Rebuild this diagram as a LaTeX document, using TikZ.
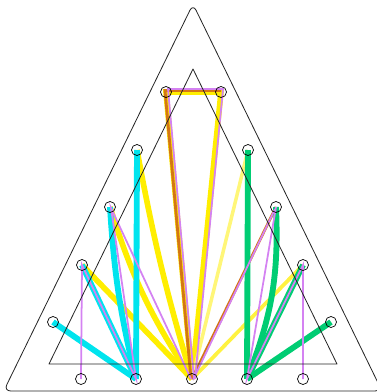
\documentclass[tikz,border=0pt]{standalone}
\usepackage{tikz}
\usetikzlibrary{calc,backgrounds}
\definecolor{mkyellow}{RGB}{255,238,0}
\definecolor{mkpale}{RGB}{255,246,120}
\definecolor{mkcyan}{RGB}{0,228,238}
\definecolor{mkgreen}{RGB}{0,205,115}
\definecolor{mkorange}{RGB}{212,118,20}
\definecolor{mkviolet}{RGB}{212,130,242}
\tikzset{
  peg/.style={draw, circle, minimum size=0.33cm, inner sep=0pt, line width=0.6pt},
  frame/.style={draw=black!85, line width=0.7pt},
  yel/.style={mkyellow, line width=4.8pt},
  cya/.style={mkcyan, line width=5pt},
  grn/.style={mkgreen, line width=5pt},
  ora/.style={mkorange, line width=2.4pt},
  vio/.style={mkviolet, line width=1.5pt}
}

\begin{document}
\begin{tikzpicture}[x=0.03cm, y=-0.03cm, line cap=round, line join=round]
  \useasboundingbox (0,0) rectangle (377,392);
  % board
  \draw[frame, rounded corners=0.21cm] (193,4) -- (382,391) -- (3.7,391) -- cycle;
  \draw[frame] (193,69) -- (337,364) -- (49,364) -- cycle;
  % pegs
  \node[peg] (tl) at (166,92) {};
  \node[peg] (tr) at (221,92) {};
  \node[peg] (la) at (137,150) {};
  \node[peg] (ra) at (248,150) {};
  \node[peg] (lb) at (110,207) {};
  \node[peg] (rb) at (276,207) {};
  \node[peg] (lc) at (82,265) {};
  \node[peg] (rc) at (303,265) {};
  \node[peg] (ld) at (53,322) {};
  \node[peg] (rd) at (331,322) {};
  \node[peg] (ba) at (81,379) {};
  \node[peg] (bb) at (136,379) {};
  \node[peg] (bc) at (192,379) {};
  \node[peg] (bd) at (247,379) {};
  \node[peg] (be) at (303,379) {};
  % strings
  \begin{scope}[on background layer, blend mode=multiply]
    % yellow
    \draw[yel] (bc.center) -- (tl.center) -- (tr.center) -- (bc.center);
    \draw[yel] (la.center) to[bend right=3] (bc.center);
    \draw[yel] (lb.center) to[bend right=8] (bc.center);
    \draw[yel] (lc.center) -- (bc.center);
    \draw[yel, line width=3.2pt, opacity=0.75] (rc.center) -- (bc.center);
    \draw[mkpale, line width=3pt] (ra.center) -- (bc.center);
    % orange
    \draw[ora] ($(bc)+(-1,0)$) -- ($(tl)+(-1,-1.5)$) -- ($(tr)+(0,-1.5)$);
    \draw[ora] (rb.center) -- (bc.center);
    % cyan
    \draw[cya] (la.center) -- (bb.center);
    \draw[cya] (lb.center) to[bend right=5] (bb.center);
    \draw[cya] (lc.center) -- (bb.center);
    \draw[cya] (ld.center) -- (bb.center);
    % green
    \draw[grn] (ra.center) -- (bd.center);
    \draw[grn] (rb.center) to[bend left=12] (bd.center);
    \draw[grn] (rc.center) -- (bd.center);
    \draw[grn] (rd.center) -- (bd.center);
    % violet
    \draw[vio] (ba.center) -- (lc.center) -- (bb.center) -- ($(lb)+(1,1)$) -- ($(bc)+(-1,0)$);
    \draw[vio] ($(bc)+(2,0)$) -- ($(tl)+(2,-3)$) -- ($(tr)+(2,-3)$) -- ($(bc)+(3,0)$);
    \draw[vio] ($(bc)+(1,1)$) -- ($(rb)+(-1,2)$);
    \draw[vio] (rb.center) -- (bd.center) -- (rc.center) -- (be.center);
  \end{scope}
\end{tikzpicture}
\end{document}
